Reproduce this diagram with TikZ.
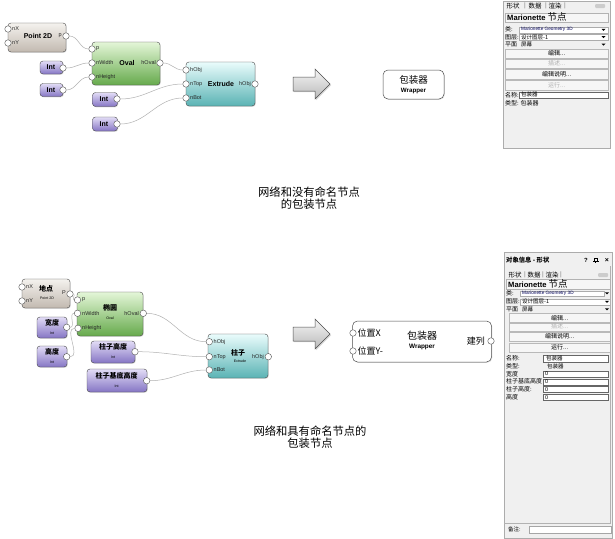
\documentclass[tikz,border=0pt]{standalone}
\usepackage{fontspec}
\setmainfont{Liberation Sans}
\newfontfamily\cjk{Noto Sans CJK SC}
\usetikzlibrary{shadows}
\definecolor{pttop}{HTML}{F4F2EE}
\definecolor{ptbot}{HTML}{C2B9B0}
\definecolor{ovtop}{HTML}{E4F6D8}
\definecolor{ovbot}{HTML}{66AA4C}
\definecolor{extop}{HTML}{EAFCFC}
\definecolor{exbot}{HTML}{5AB3B4}
\definecolor{intop}{HTML}{E2DCF6}
\definecolor{inbot}{HTML}{8575C4}
\definecolor{panelbg}{HTML}{F0F0F0}
\definecolor{btn}{HTML}{F6F6F6}
\tikzset{
 port/.style={circle,draw=gray!75!black,fill=white,inner sep=0pt,minimum size=6.5pt,line width=0.45pt},
 pl/.style={font=\fontsize{5.5}{6}\selectfont,inner sep=0pt,text=black!85},
 ttl/.style={font=\bfseries\fontsize{7}{8}\selectfont,inner sep=0pt},
 cttl/.style={font=\cjk\bfseries\fontsize{7}{8}\selectfont,inner sep=0pt},
 tinyt/.style={font=\fontsize{3.6}{4}\selectfont,inner sep=0pt},
 wire/.style={draw=gray!60,line width=0.5pt},
 nbox/.style={draw=gray!55!black,rounded corners=3pt,line width=0.4pt,inner sep=0pt,
   drop shadow={opacity=0.25,shadow xshift=0.8pt,shadow yshift=-0.8pt}},
 ptbox/.style={nbox,top color=pttop,bottom color=ptbot},
 ovbox/.style={nbox,top color=ovtop,bottom color=ovbot},
 exbox/.style={nbox,top color=extop,bottom color=exbot},
 intbox/.style={nbox,top color=intop,bottom color=inbot},
 bigarrow/.style={draw=gray!60!black,line width=0.5pt,top color=gray!8,bottom color=gray!55,
   drop shadow={opacity=0.3,shadow xshift=1.2pt,shadow yshift=-1.2pt}},
 wrapbox/.style={draw=gray!60!black,fill=white,rounded corners=5pt,inner sep=0pt,line width=0.5pt,
   drop shadow={opacity=0.2,shadow xshift=0.8pt,shadow yshift=-0.8pt}},
 caption/.style={align=center,font=\cjk\fontsize{11.3}{11.7}\selectfont,inner sep=0pt},
 panel/.style={draw=gray!65,fill=panelbg,inner sep=0pt,anchor=north west,line width=0.5pt},
 ptxt/.style={font=\cjk\fontsize{6}{7}\selectfont,inner sep=0pt,anchor=west},
 tabt/.style={font=\cjk\fontsize{6.5}{7}\selectfont,inner sep=0pt},
 sep/.style={font=\fontsize{6.5}{7}\selectfont,inner sep=0pt,text=gray},
 fld/.style={draw=gray!65,fill=white,inner sep=0pt,anchor=north west,line width=0.4pt},
 pbtn/.style={draw=gray!55,fill=btn,inner sep=0pt,anchor=north west,font=\cjk\fontsize{6}{7}\selectfont,line width=0.4pt},
 hdr/.style={draw=gray!60,fill=btn,inner sep=0pt,anchor=north west,line width=0.4pt},
}
\newcommand\mnhead{\bfseries\fontsize{7.6}{8}\selectfont Marionette {\cjk\mdseries\fontsize{9.5}{10}\selectfont 节点}}
\begin{document}
\begin{tikzpicture}[x=1pt,y=-1pt]
\useasboundingbox[fill=white] (0,0) rectangle (615,538);

%% ================= TOP GRAPH =================
\node[ptbox,minimum width=58pt,minimum height=29pt] (pt) at (37,37.5) {};
\node[ovbox,minimum width=68pt,minimum height=43pt] (ov) at (126,63.5) {};
\node[exbox,minimum width=69pt,minimum height=44pt] (ex) at (220.5,84) {};
\node[intbox,minimum width=23pt,minimum height=13pt] (i1) at (51.5,67.5) {};
\node[intbox,minimum width=23pt,minimum height=13pt] (i2) at (51.5,90) {};
\node[intbox,minimum width=25pt,minimum height=14pt] (i3) at (105,99.5) {};
\node[intbox,minimum width=25pt,minimum height=14pt] (i4) at (105,124) {};

\node[ttl] (ptT) at (38,36) {Point 2D};
\node[ttl] (ovT) at (127,63) {Oval};
\node[ttl] (exT) at (221,84) {Extrude};
\node[ttl] (i1T) at (51,67.5) {Int};
\node[ttl] (i2T) at (51,90) {Int};
\node[ttl] (i3T) at (104,99.5) {Int};
\node[ttl] (i4T) at (104,124) {Int};

\node[port] (ptX) at (8,29) {};
\node[port] (ptY) at (8,43) {};
\node[port] (ptP) at (66,36) {};
\node[pl,anchor=west] (ptXl) at (12,29) {nX};
\node[pl,anchor=west] (ptYl) at (12,43) {nY};
\node[pl,anchor=east] (ptPl) at (62,36) {p};

\node[port] (ovP) at (92,49) {};
\node[port] (ovW) at (92,63) {};
\node[port] (ovH) at (92,77) {};
\node[port] (ovO) at (160,63) {};
\node[pl,anchor=west] (ovPl) at (96,49) {p};
\node[pl,anchor=west] (ovWl) at (96,63) {nWidth};
\node[pl,anchor=west] (ovHl) at (96,77) {nHeight};
\node[pl,anchor=east] (ovOl) at (156,63) {hOval};

\node[port] (exH) at (186,70) {};
\node[port] (exTp) at (186,84) {};
\node[port] (exB) at (186,98) {};
\node[port] (exO) at (255,84) {};
\node[pl,anchor=west] (exHl) at (190,70) {hObj};
\node[pl,anchor=west] (exTl) at (190,84) {nTop};
\node[pl,anchor=west] (exBl) at (190,98) {nBot};
\node[pl,anchor=east] (exOl) at (251,84) {hObj};

\node[port] (i1P) at (63,68) {};
\node[port] (i2P) at (63,90) {};
\node[port] (i3P) at (117,99) {};
\node[port] (i4P) at (117,124) {};

\draw[wire] (ptP) to[out=0,in=180] (ovP);
\draw[wire] (i1P) to[out=0,in=180] (ovW);
\draw[wire] (i2P) to[out=0,in=180] (ovH);
\draw[wire] (ovO) to[out=0,in=180] (exH);
\draw[wire] (i3P) to[out=0,in=180] (exTp);
\draw[wire] (i4P) to[out=0,in=180] (exB);

\path[bigarrow] (293,77) -- (315,77) -- (315,69) -- (330,84) -- (315,99) -- (315,91) -- (293,91) -- cycle;

\node[wrapbox,minimum width=61pt,minimum height=29pt] (wt) at (413.5,84.5) {};
\node[font=\cjk\fontsize{9.5}{10}\selectfont,inner sep=0pt] (wtT) at (413.5,80) {包装器};
\node[font=\bfseries\fontsize{6.2}{7}\selectfont,inner sep=0pt] (wtS) at (413.5,91) {Wrapper};

\node[caption] (cap1) at (309,198.5) {网络和没有命名节点\\的包装节点};

%% ================= TOP PANEL =================
\node[panel,minimum width=107pt,minimum height=147pt] (pan1) at (503,1) {};
\node[tabt] (p1t1) at (513,6) {形状};
\node[sep] (p1s1) at (525,6) {|};
\node[tabt] (p1t2) at (535,6) {数据};
\node[sep] (p1s2) at (546,6) {|};
\node[tabt] (p1t3) at (555,6) {渲染};
\node[sep] (p1s3) at (565,6) {|};
\node[fill=gray!40,rounded corners=1pt,minimum width=10pt,minimum height=4pt,inner sep=0pt] (p1tb) at (600,6) {};
\node[hdr,minimum width=103pt,minimum height=9pt] (p1h) at (505,12.5) {};
\node[anchor=west,inner sep=0pt] (p1ht) at (507,17) {\mnhead};

\node[ptxt] (p1l1) at (505,29.7) {类:};
\node[fld,minimum width=89pt,minimum height=5.6pt] (p1f1) at (519,27) {};
\node[anchor=west,inner sep=0pt,font=\fontsize{4.7}{5}\selectfont,text=blue!35!black] (p1v1) at (521,29.7) {Marionette Geometry 3D};
\fill (601.5,28.8) -- (605.5,28.8) -- (603.5,30.8) -- cycle;

\node[ptxt] (p1l2) at (505,37) {图层:};
\node[fld,minimum width=89pt,minimum height=5.6pt] (p1f2) at (519,34.2) {};
\node[ptxt,font=\cjk\fontsize{5.5}{6}\selectfont] (p1v2) at (521,37) {设计图层-1};
\fill (601.5,36.1) -- (605.5,36.1) -- (603.5,38.1) -- cycle;

\node[ptxt] (p1l3) at (505,44.5) {平面};
\node[ptxt,font=\cjk\fontsize{5.5}{6}\selectfont] (p1v3) at (521,44.5) {屏幕};
\fill (601.5,43.6) -- (605.5,43.6) -- (603.5,45.6) -- cycle;

\node[pbtn,minimum width=103pt,minimum height=9pt] (p1b1) at (505,49) {编辑...};
\node[pbtn,minimum width=103pt,minimum height=9pt,text=gray!60] (p1b2) at (505,59) {描述...};
\node[pbtn,minimum width=103pt,minimum height=10pt] (p1b3) at (505,69) {编辑说明...};
\node[pbtn,minimum width=103pt,minimum height=10pt,text=gray!60] (p1b4) at (505,80) {运行...};

\node[ptxt] (p1l4) at (505,94.8) {名称:};
\node[fld,draw=gray!80!black,minimum width=89pt,minimum height=6pt] (p1f4) at (519,91.8) {};
\node[ptxt,font=\cjk\fontsize{5.5}{6}\selectfont] (p1v4) at (521,94.8) {包装器};
\node[ptxt] (p1l5) at (505,102.8) {类型: 包装器};

%% ================= BOTTOM GRAPH =================
\node[ptbox,minimum width=48pt,minimum height=29pt] (lp) at (46,293.5) {};
\node[ovbox,minimum width=66pt,minimum height=44pt] (eo) at (110,314) {};
\node[exbox,minimum width=60pt,minimum height=44pt] (zz) at (238,356) {};
\node[intbox,minimum width=30pt,minimum height=21pt] (kd) at (52,327.5) {};
\node[intbox,minimum width=30pt,minimum height=21pt] (gd) at (52,356.5) {};
\node[intbox,minimum width=44pt,minimum height=22pt] (zg) at (113,352) {};
\node[intbox,minimum width=60pt,minimum height=23pt] (zj) at (117,380.5) {};

\node[cttl] (lpT) at (46,289) {地点};
\node[tinyt] (lpS) at (47,298.5) {Point 2D};
\node[cttl] (eoT) at (110,308) {椭圆};
\node[tinyt] (eoS) at (110,318) {Oval};
\node[cttl] (zzT) at (238,352.5) {柱子};
\node[tinyt] (zzS) at (240,361.5) {Extrude};
\node[cttl] (kdT) at (52,323) {宽度};
\node[tinyt] (kdS) at (52,333.5) {Int};
\node[cttl] (gdT) at (52,352) {高度};
\node[tinyt] (gdS) at (52,362.5) {Int};
\node[cttl] (zgT) at (113,347.3) {柱子高度};
\node[tinyt] (zgS) at (113,357.5) {Int};
\node[cttl] (zjT) at (116.5,376.3) {柱子基底高度};
\node[tinyt] (zjS) at (116.5,386.5) {Int};

\node[port] (lpX) at (22,287) {};
\node[port] (lpY) at (22,301) {};
\node[port] (lpP) at (70,294) {};
\node[pl,anchor=west] (lpXl) at (26,287) {nX};
\node[pl,anchor=west] (lpYl) at (26,301) {nY};
\node[pl,anchor=east] (lpPl) at (66,293) {P};

\node[port] (eoP) at (77.5,300) {};
\node[port] (eoW) at (77.5,313.3) {};
\node[port] (eoH) at (78,328.3) {};
\node[port] (eoO) at (143.3,313.3) {};
\node[pl,anchor=west] (eoPl) at (82,300) {p};
\node[pl,anchor=west] (eoWl) at (82,313.3) {nWidth};
\node[pl,anchor=west] (eoHl) at (82,328.3) {nHeight};
\node[pl,anchor=east] (eoOl) at (139,313.3) {hOval};

\node[port] (zzH) at (209.3,341.7) {};
\node[port] (zzTp) at (209.3,356.7) {};
\node[port] (zzB) at (209.3,370) {};
\node[port] (zzO) at (268.3,356.7) {};
\node[pl,anchor=west] (zzHl) at (213.5,341.7) {hObj};
\node[pl,anchor=west] (zzTl) at (213.5,356.7) {nTop};
\node[pl,anchor=west] (zzBl) at (213.5,370) {nBot};
\node[pl,anchor=east] (zzOl) at (264,356.7) {hObj};

\node[port] (kdP) at (66.7,327.3) {};
\node[port] (gdP) at (66.7,356.7) {};
\node[port] (zgP) at (135,351.7) {};
\node[port] (zjP) at (146.7,380.7) {};

\draw[wire] (lpP) to[out=0,in=180] (eoP);
\draw[wire] (kdP) to[out=0,in=180] (eoW);
\draw[wire] (gdP) to[out=0,in=180] (eoH);
\draw[wire] (eoO) to[out=0,in=180] (zzH);
\draw[wire] (zgP) to[out=0,in=180] (zzTp);
\draw[wire] (zjP) to[out=0,in=180] (zzB);

\path[bigarrow] (293,327) -- (315,327) -- (315,319) -- (330,334) -- (315,349) -- (315,341) -- (293,341) -- cycle;

\node[wrapbox,minimum width=139pt,minimum height=41pt] (wb) at (422,341.5) {};
\node[port] (wbX) at (353,333) {};
\node[port] (wbY) at (353,351) {};
\node[port] (wbO) at (491,341) {};
\node[anchor=west,inner sep=0pt,font=\cjk\fontsize{9}{10}\selectfont] (wbXl) at (357.5,333) {位置X};
\node[anchor=west,inner sep=0pt,font=\cjk\fontsize{9}{10}\selectfont] (wbYl) at (357.5,351) {位置Y-};
\node[anchor=east,inner sep=0pt,font=\cjk\fontsize{9}{10}\selectfont] (wbOl) at (485,341) {建列};
\node[font=\cjk\fontsize{10}{11}\selectfont,inner sep=0pt] (wbT) at (422,336) {包装器};
\node[font=\bfseries\fontsize{6.4}{7}\selectfont,inner sep=0pt] (wbS) at (422,346.5) {Wrapper};

\node[caption] (cap2) at (310,437.5) {网络和具有命名节点的\\包装节点};

%% ================= BOTTOM PANEL =================
\node[panel,minimum width=108pt,minimum height=286pt] (pan2) at (504,252) {};
\node[ptxt,font=\cjk\bfseries\fontsize{6.3}{7}\selectfont] (p2ti) at (506,260) {对象信息 - 形状};
\node[inner sep=0pt,font=\bfseries\fontsize{6}{7}\selectfont] (p2q) at (586,260) {?};
\draw[line width=0.5pt] (594,258) rectangle (597.5,261) (593,261) -- (598.5,261) (595.7,261) -- (595.7,263);
\node[inner sep=0pt,font=\bfseries\fontsize{7}{7}\selectfont] (p2x) at (607,260) {×};
\node[tabt] (p2t1) at (515,275) {形状};
\node[sep] (p2s1) at (525,275) {|};
\node[tabt] (p2t2) at (534,275) {数据};
\node[sep] (p2s2) at (543,275) {|};
\node[tabt] (p2t3) at (552,275) {渲染};
\node[sep] (p2s3) at (561,275) {|};
\node[fill=gray!40,rounded corners=1pt,minimum width=10pt,minimum height=4pt,inner sep=0pt] (p2tb) at (603,275) {};
\node[hdr,minimum width=104pt,minimum height=10pt] (p2h) at (506,279) {};
\node[anchor=west,inner sep=0pt] (p2ht) at (508,284) {\mnhead};

\node[ptxt] (p2l1) at (506,293.3) {类:};
\node[fld,minimum width=84pt,minimum height=5.6pt] (p2f1) at (520,290.5) {};
\node[anchor=west,inner sep=0pt,font=\fontsize{4.7}{5}\selectfont,text=blue!35!black] (p2v1) at (522,293.3) {Marionette Geometry 3D};
\fill (605,292.4) -- (609,292.4) -- (607,294.4) -- cycle;

\node[ptxt] (p2l2) at (506,301.7) {图层:};
\node[fld,minimum width=90pt,minimum height=5.6pt] (p2f2) at (520,298.9) {};
\node[ptxt,font=\cjk\fontsize{5.5}{6}\selectfont] (p2v2) at (522,301.7) {设计图层-1};
\fill (605,300.8) -- (609,300.8) -- (607,302.8) -- cycle;

\node[ptxt] (p2l3) at (506,309.3) {平面};
\node[ptxt,font=\cjk\fontsize{5.5}{6}\selectfont] (p2v3) at (522,309.3) {屏幕};
\fill (605,308.4) -- (609,308.4) -- (607,310.4) -- cycle;

\node[pbtn,minimum width=101pt,minimum height=9pt] (p2b1) at (509,313) {编辑...};
\node[pbtn,minimum width=101pt,minimum height=8pt,text=gray!60] (p2b2) at (509,322.5) {描述...};
\node[pbtn,minimum width=101pt,minimum height=9pt] (p2b3) at (509,331.5) {编辑说明...};
\node[pbtn,minimum width=101pt,minimum height=9pt] (p2b4) at (509,343) {运行...};

\node[ptxt] (p2l4) at (506,358.3) {名称:};
\node[fld,draw=gray!80!black,minimum width=65pt,minimum height=6.5pt] (p2f4) at (543,355) {};
\node[ptxt,font=\cjk\fontsize{5.5}{6}\selectfont] (p2v4) at (546,358.3) {包装器};
\node[ptxt] (p2l5) at (506,366) {类型:};
\node[ptxt,font=\cjk\fontsize{5.5}{6}\selectfont] (p2v5) at (547,366) {包装器};

\node[ptxt] (p2l6) at (506,374) {宽度};
\node[fld,draw=gray!80!black,minimum width=65pt,minimum height=6pt] (p2f6) at (543,371) {};
\node[ptxt,font=\fontsize{5.5}{6}\selectfont] (p2v6) at (545,374) {0};
\node[ptxt] (p2l7) at (506,381.7) {柱子基底高度};
\node[fld,draw=gray!80!black,minimum width=65pt,minimum height=6pt] (p2f7) at (543,378.7) {};
\node[ptxt,font=\fontsize{5.5}{6}\selectfont] (p2v7) at (545,381.7) {0};
\node[ptxt] (p2l8) at (506,389.3) {柱子高度:};
\node[fld,draw=gray!80!black,minimum width=65pt,minimum height=6pt] (p2f8) at (543,386.3) {};
\node[ptxt,font=\fontsize{5.5}{6}\selectfont] (p2v8) at (545,389.3) {0};
\node[ptxt] (p2l9) at (506,397.3) {高度};
\node[fld,draw=gray!80!black,minimum width=65pt,minimum height=6pt] (p2f9) at (543,394.3) {};
\node[ptxt,font=\fontsize{5.5}{6}\selectfont] (p2v9) at (545,397.3) {0};

\draw[gray!60,line width=0.6pt] (610,266) -- (610,523) -- (504,523);
\node[ptxt,font=\cjk\fontsize{5.5}{6}\selectfont] (p2l10) at (508,529.3) {备注:};
\node[fld,draw=gray!70,minimum width=82pt,minimum height=7.5pt] (p2f10) at (529,525.5) {};
\end{tikzpicture}
\end{document}
